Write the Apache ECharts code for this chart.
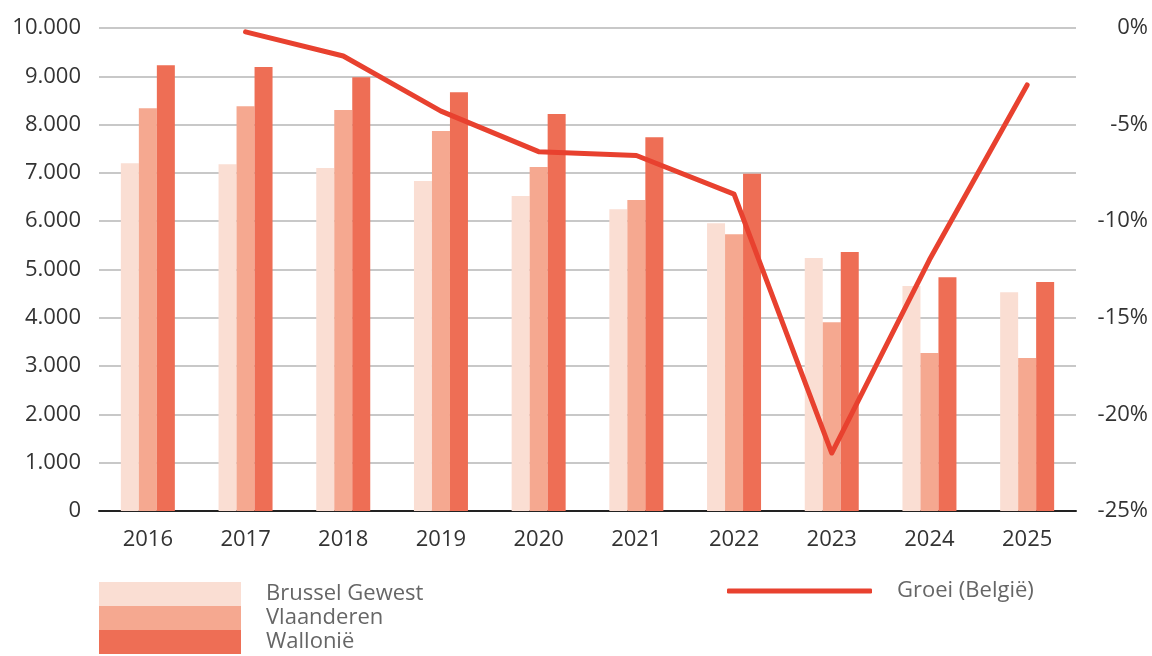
<!DOCTYPE html>
<html>
<head>
<meta charset="utf-8">
<script src="https://cdn.jsdelivr.net/npm/echarts@6/dist/echarts.min.js"></script>
<style>
  html, body { margin: 0; padding: 0; background: #fff; }
  #chart { width: 1152px; height: 656px; }
</style>
</head>
<body>
<div id="chart"></div>
<script>
var years = ['2016', '2017', '2018', '2019', '2020', '2021', '2022', '2023', '2024', '2025'];
var brussel = [7200, 7180, 7100, 6830, 6520, 6250, 5960, 5240, 4660, 4530];
var vlaanderen = [8340, 8380, 8300, 7870, 7120, 6440, 5730, 3910, 3270, 3170];
var wallonie = [9230, 9190, 8980, 8670, 8220, 7740, 6980, 5360, 4840, 4740];
var groei = [null, -0.2, -1.45, -4.3, -6.4, -6.6, -8.6, -22.0, -12.0, -2.95];

var chart = echarts.init(document.getElementById('chart'));

var txt = '#333';
var font = 'Open Sans';

var option = {
  backgroundColor: '#ffffff',
  animation: false,
  textStyle: { fontFamily: font },
  grid: { left: 99, right: 76, top: 28, bottom: 145 },
  legend: [{
    orient: 'vertical',
    left: 99,
    top: 582,
    height: 80,
    padding: 0,
    itemGap: 0,
    itemWidth: 142,
    itemHeight: 24,
    icon: 'rect',
    data: ['Brussel Gewest', 'Vlaanderen', 'Wallonië'],
    textStyle: { color: '#666', fontSize: 22, fontFamily: font, padding: [0, 0, 0, 20], lineHeight: 24 }
  }, {
    left: 727,
    top: 580,
    padding: 0,
    itemWidth: 145,
    itemHeight: 5,
    icon: 'roundRect',
    data: ['Groei (België)'],
    textStyle: { color: '#666', fontSize: 22, fontFamily: font, padding: [0, 0, 0, 20] }
  }],
  xAxis: {
    type: 'category',
    data: years,
    axisLine: { lineStyle: { color: '#222', width: 2 } },
    axisTick: { show: false },
    axisLabel: { color: txt, fontSize: 22, margin: 18, fontFamily: font }
  },
  yAxis: [{
    type: 'value',
    min: 0,
    max: 10000,
    interval: 1000,
    axisLine: { show: false },
    axisTick: { show: false },
    splitLine: { lineStyle: { color: '#c8c8c8', width: 2 } },
    axisLabel: {
      color: txt, fontSize: 22, margin: 18, fontFamily: font,
      formatter: function (v) { return v.toLocaleString('de-DE'); }
    }
  }, {
    type: 'value',
    min: -25,
    max: 0,
    interval: 5,
    position: 'right',
    axisLine: { show: false },
    axisTick: { show: false },
    splitLine: { show: false },
    axisLabel: {
      color: txt, fontSize: 22, fontFamily: font, margin: 72, align: 'right',
      formatter: '{value}%'
    }
  }],
  series: [{
    name: 'Brussel Gewest',
    type: 'bar',
    data: brussel,
    barWidth: 18,
    barGap: '0%',
    itemStyle: { color: '#FADED3' }
  }, {
    name: 'Vlaanderen',
    type: 'bar',
    data: vlaanderen,
    barWidth: 18,
    barGap: '0%',
    itemStyle: { color: '#F5A890' }
  }, {
    name: 'Wallonië',
    type: 'bar',
    data: wallonie,
    barWidth: 18,
    barGap: '0%',
    itemStyle: { color: '#EE6E55' }
  }, {
    name: 'Groei (België)',
    type: 'line',
    yAxisIndex: 1,
    data: groei,
    symbol: 'none',
    itemStyle: { color: '#E8412F' },
    lineStyle: { color: '#E8412F', width: 5, cap: 'round', join: 'round' }
  }]
};

chart.setOption(option);
</script>
</body>
</html>
